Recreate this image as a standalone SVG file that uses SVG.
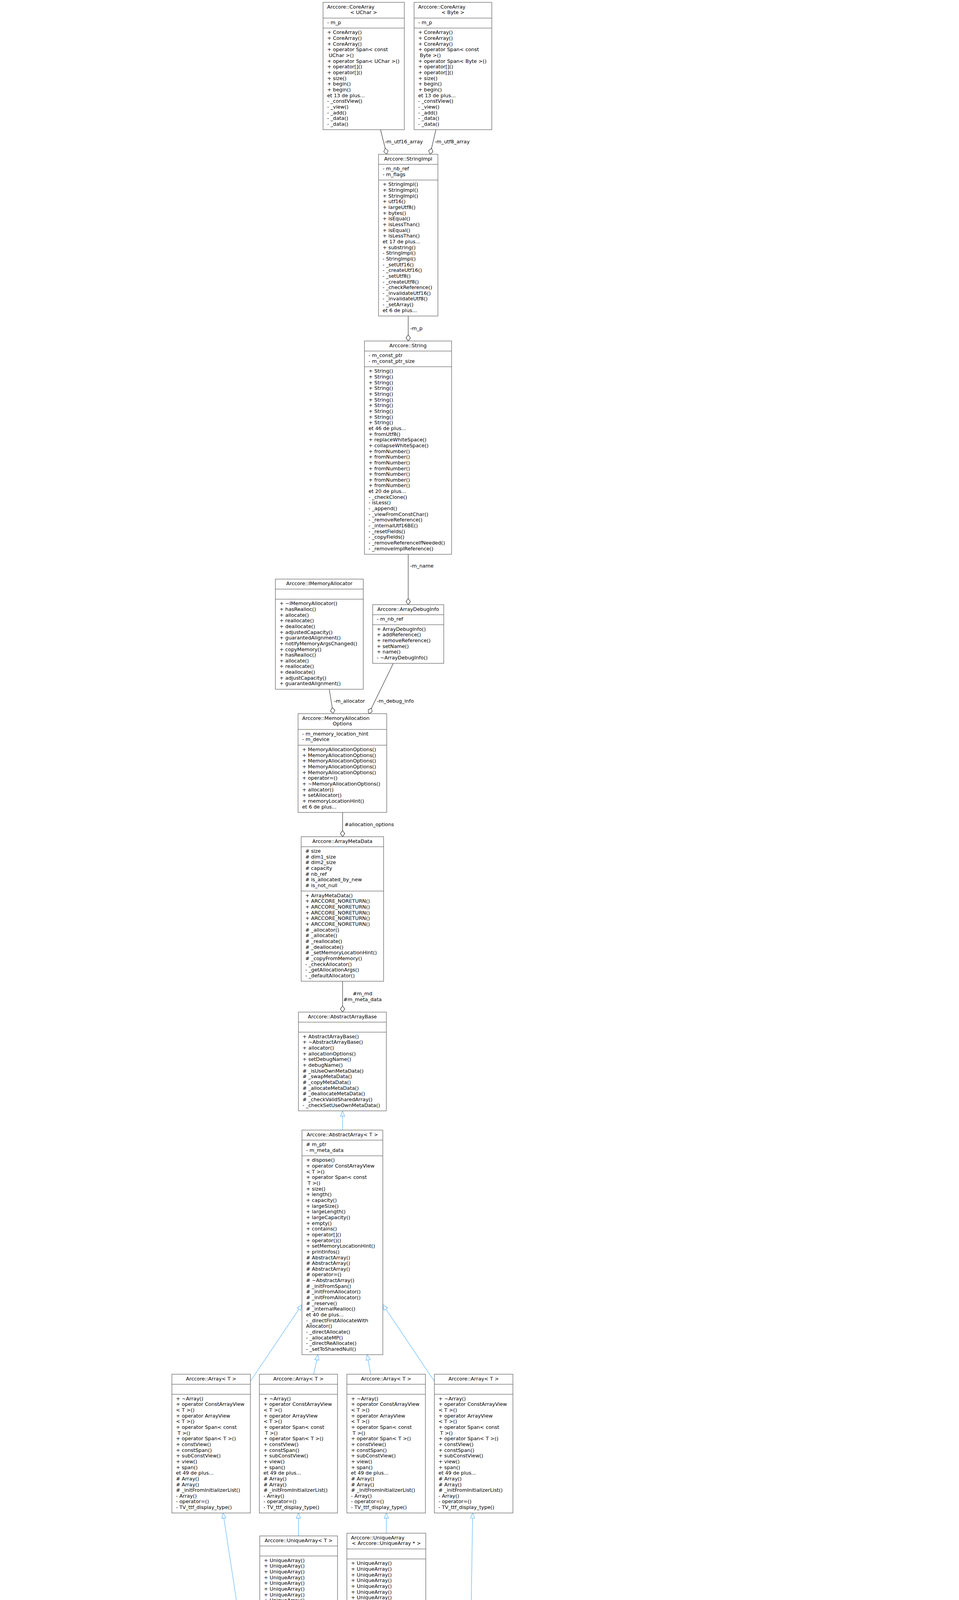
<svg xmlns="http://www.w3.org/2000/svg" xmlns:xlink="http://www.w3.org/1999/xlink" width="2455" height="7424" viewBox="0 0 2455 7424">
<style>
.n rect{fill:#fff;stroke:#666;stroke-width:1.3}
.n path{fill:none;stroke:#666;stroke-width:1.3}
.g rect,.g path{stroke:#bfbfbf}
.f rect{fill:#999}
text{font-family:"DejaVu Sans","Liberation Sans",sans-serif;font-size:12.8px;fill:#000}
.m{text-anchor:middle}
.en{text-anchor:end}
.e{fill:none;stroke:#404040;stroke-width:1.3}
.ih{fill:none;stroke:#63b8ff;stroke-width:1.3}
.rd{fill:none;stroke:#8b1a1a;stroke-width:1.3}
</style>
<defs>
<marker id="d" markerUnits="userSpaceOnUse" markerWidth="20" markerHeight="16" viewBox="-18 -8 20 16" refX="0" refY="0" orient="auto"><path d="M0,0L-8,-5.7L-16,0L-8,5.7Z" fill="#fff" stroke="#404040" stroke-width="1.3"/></marker>
<marker id="tb" markerUnits="userSpaceOnUse" markerWidth="18" markerHeight="16" viewBox="-16 -8 18 16" refX="0" refY="0" orient="auto"><path d="M0,0L-13.5,-5.5L-13.5,5.5Z" fill="#fff" stroke="#63b8ff" stroke-width="1.3"/></marker>
<marker id="tr" markerUnits="userSpaceOnUse" markerWidth="18" markerHeight="16" viewBox="-16 -8 18 16" refX="0" refY="0" orient="auto"><path d="M0,0L-13.5,-5.5L-13.5,5.5Z" fill="#fff" stroke="#8b1a1a" stroke-width="1.3"/></marker>
<text id="arrM"><tspan x="0" y="0">+ ~Array()</tspan><tspan x="0" dy="14.65">+ operator ConstArrayView</tspan><tspan x="0" dy="14.65">&lt; T &gt;()</tspan><tspan x="0" dy="14.65">+ operator ArrayView</tspan><tspan x="0" dy="14.65">&lt; T &gt;()</tspan><tspan x="0" dy="14.65">+ operator Span&lt; const</tspan><tspan x="4" dy="14.65">T &gt;()</tspan><tspan x="0" dy="14.65">+ operator Span&lt; T &gt;()</tspan><tspan x="0" dy="14.65">+ constView()</tspan><tspan x="0" dy="14.65">+ constSpan()</tspan><tspan x="0" dy="14.65">+ subConstView()</tspan><tspan x="0" dy="14.65">+ view()</tspan><tspan x="0" dy="14.65">+ span()</tspan><tspan x="0" dy="14.65">et 49 de plus...</tspan><tspan x="0" dy="14.65"># Array()</tspan><tspan x="0" dy="14.65"># Array()</tspan><tspan x="0" dy="14.65"># _initFromInitializerList()</tspan><tspan x="0" dy="14.65">- Array()</tspan><tspan x="0" dy="14.65">- operator=()</tspan><tspan x="0" dy="14.65">- TV_ttf_display_type()</tspan></text>
<text id="uaM"><tspan x="0" y="0">+ UniqueArray()</tspan><tspan x="0" dy="14.65">+ UniqueArray()</tspan><tspan x="0" dy="14.65">+ UniqueArray()</tspan><tspan x="0" dy="14.65">+ UniqueArray()</tspan><tspan x="0" dy="14.65">+ UniqueArray()</tspan><tspan x="0" dy="14.65">+ UniqueArray()</tspan><tspan x="0" dy="14.65">+ UniqueArray()</tspan><tspan x="0" dy="14.65">+ UniqueArray()</tspan><tspan x="0" dy="14.65">+ UniqueArray()</tspan><tspan x="0" dy="14.65">+ UniqueArray()</tspan><tspan x="0" dy="14.65">et 25 de plus...</tspan></text>
<text id="szp"><tspan x="0" y="0">- m_size</tspan><tspan x="0" dy="14.65">- m_ptr</tspan></text>
<text id="cavM"><tspan x="0" y="0">+ ConstArrayView()</tspan><tspan x="0" dy="14.65">+ ConstArrayView()</tspan><tspan x="0" dy="14.65">+ ConstArrayView()</tspan><tspan x="0" dy="14.65">+ ConstArrayView()</tspan><tspan x="0" dy="14.65">+ ConstArrayView()</tspan><tspan x="0" dy="14.65">+ operator=()</tspan><tspan x="0" dy="14.65">+ operator=()</tspan><tspan x="0" dy="14.65">+ operator=()</tspan><tspan x="0" dy="14.65">+ subView()</tspan><tspan x="0" dy="14.65">+ subPart()</tspan><tspan x="0" dy="14.65">et 19 de plus...</tspan><tspan x="0" dy="14.65">+ create()</tspan><tspan x="0" dy="14.65">- _min()</tspan></text>
<text id="avM"><tspan x="0" y="0">+ ArrayView()</tspan><tspan x="0" dy="14.65">+ ArrayView()</tspan><tspan x="0" dy="14.65">+ ArrayView()</tspan><tspan x="0" dy="14.65">+ ArrayView()</tspan><tspan x="0" dy="14.65">+ operator=()</tspan><tspan x="0" dy="14.65">+ operator=()</tspan><tspan x="0" dy="14.65">+ operator[]()</tspan><tspan x="0" dy="14.65">+ operator[]()</tspan><tspan x="0" dy="14.65">+ operator()()</tspan><tspan x="0" dy="14.65">+ operator()()</tspan><tspan x="0" dy="14.65">et 33 de plus...</tspan><tspan x="0" dy="14.65">+ create()</tspan><tspan x="0" dy="14.65"># _ptr()</tspan><tspan x="0" dy="14.65"># _ptr()</tspan><tspan x="0" dy="14.65"># _setArray()</tspan><tspan x="0" dy="14.65"># _setPtr()</tspan><tspan x="0" dy="14.65"># _setSize()</tspan><tspan x="0" dy="14.65">- _min()</tspan></text>
</defs>
<rect width="2455" height="7424" fill="#fff"/>

<g id="edges">
<path class="e" d="M974,332L990,395" marker-end="url(#d)"/>
<path class="e" d="M1116,332L1101,395" marker-end="url(#d)"/>
<path class="e" d="M1045,809L1045,873" marker-end="url(#d)"/>
<path class="e" d="M1045,1419L1045,1548" marker-end="url(#d)"/>
<path class="e" d="M843,1765L853,1827" marker-end="url(#d)"/>
<path class="e" d="M1007,1698L944,1827" marker-end="url(#d)"/>
<path class="e" d="M877,2080L877,2142" marker-end="url(#d)"/>
<path class="e" d="M877,2512L877,2591" marker-end="url(#d)"/>
<path class="ih" d="M877,2893L877,2844" marker-end="url(#tb)"/>
<path class="ih" d="M641,3536L773,3340" marker-end="url(#tb)"/>
<path class="ih" d="M803,3518L814,3468" marker-end="url(#tb)"/>
<path class="ih" d="M949,3518L940,3468" marker-end="url(#tb)"/>
<path class="ih" d="M1112,3536L980,3340" marker-end="url(#tb)"/>
<path class="ih" d="M764,3932L764,3873" marker-end="url(#tb)"/>
<path class="ih" d="M989,3925L989,3873" marker-end="url(#tb)"/>
<path class="ih" d="M619,4187L571,3873" marker-end="url(#tb)"/>
<path class="ih" d="M1205,4187L1210,3873" marker-end="url(#tb)"/>
<path class="e" d="M763,4155C766,4300 790,4400 810,4450" marker-end="url(#d)"/>
<path class="e" d="M970,4163C958,4270 935,4380 926,4450" marker-end="url(#d)"/>
<path class="e" d="M580,4717C650,4780 715,4880 736,5133" marker-end="url(#d)"/>
<path class="e" d="M655,4425C670,4600 705,4850 744,5133" marker-end="url(#d)"/>
<path class="e" d="M876,4732C865,4850 815,5000 802,5133" marker-end="url(#d)"/>
<path class="e" d="M1157,4425C1100,4580 1000,4760 860,5133" marker-end="url(#d)"/>
<path class="e" d="M866,5252C902,5265 902,5425 866,5439" marker-end="url(#d)"/>
<path class="e" d="M628,5887L651,5908L1086,6203" marker-end="url(#d)"/>
<path class="e" d="M839,5561L1062,6068L1086,6098" marker-end="url(#d)"/>
<path class="e" d="M1131,5524L1166,6043" marker-end="url(#d)"/>
<path class="e" d="M1293,5524L1254,6043" marker-end="url(#d)"/>
<path class="e" d="M1470,5524C1468,5800 1440,5980 1294,6160" marker-end="url(#d)"/>
<path class="e" d="M1655,5488C1645,5750 1560,5950 1400,6106L1294,6193" marker-end="url(#d)"/>
<path class="e" d="M1294,6224C1325,6238 1325,6316 1294,6329" marker-end="url(#d)"/>
<path class="ih" d="M1853,6005L1853,5459" marker-end="url(#tb)"/>
<path class="e" d="M1086,6376L745,6688" marker-end="url(#d)"/>
<path class="e" d="M1629,7156C1480,7080 1310,6870 1250,6680C1235,6620 1222,6560 1215,6515" marker-end="url(#d)"/>
<path class="e" d="M1498,6739C1440,6700 1360,6680 1330,6655C1290,6620 1268,6560 1258,6515" marker-end="url(#d)"/>
<path class="e" d="M1294,6418C1350,6500 1480,6650 1545,6739" marker-end="url(#d)"/>
<path class="e" d="M1608,6419L1608,6739" marker-end="url(#d)"/>
<path class="e" d="M1726,6551L1644,6739" marker-end="url(#d)"/>
<path class="e" d="M1633,6875L1684,7020" marker-end="url(#d)"/>
<path class="e" d="M1940,6882L1869,7020" marker-end="url(#d)"/>
<path class="e" d="M2199,6861C2120,6940 2000,7060 1889,7124" marker-end="url(#d)"/>
<path class="e" d="M1889,7184C1915,7195 1915,7240 1889,7249" marker-end="url(#d)"/>
<path class="e" d="M2065,6419L1997,6732" marker-end="url(#d)"/>
<path class="e" d="M2293,6375C2260,6440 2230,6510 2201,6556C2150,6620 2090,6680 2049,6732" marker-end="url(#d)"/>
<path class="e" d="M625,6420L625,6674" marker-end="url(#d)"/>
<path class="e" d="M745,6777C773,6790 773,6822 745,6833" marker-end="url(#d)"/>
<path class="rd" d="M538,6674L354,6361" marker-end="url(#tr)"/>
<path class="e" d="M719,6941L836,7115" marker-end="url(#d)"/>
<path class="e" d="M1019,6956L958,7115" marker-end="url(#d)"/>
<path class="e" d="M91,5414C95,5750 115,5950 170,6070C195,6120 215,6160 237,6196" marker-end="url(#d)"/>
<path class="e" d="M308,5444L308,6196" marker-end="url(#d)"/>
<text x="985" y="366.5">-m_utf16_array</text>
<text x="1113" y="366.5">-m_utf8_array</text>
<text x="1050" y="844.5">-m_p</text>
<text x="1050" y="1453">-m_name</text>
<text x="855" y="1798.5">-m_allocator</text>
<text x="965" y="1798.5">-m_debug_info</text>
<text x="882" y="2114.5">#allocation_options</text>
<text class="m" x="928" y="2547.5">#m_md</text>
<text class="m" x="928" y="2562.5">#m_meta_data</text>
<text class="m" x="865" y="4309.5">-m_current_buffer</text>
<text class="m" x="1037" y="4309.5">-m_allocated_buffers</text>
<text class="m" x="726" y="4594.5">-m_types</text>
<text class="m" x="1199" y="4594.5">+m_ids_buffer</text>
<text x="618" y="4767.5">-m_trace</text>
<text x="874" y="4767.5">-m_types_buffer</text>
<text x="895" y="5350.5">-singleton_instance</text>
<text class="m" x="212" y="5933.5">-m_first_sub_constituent</text>
<text class="m" x="212" y="5948">_item_id_data</text>
<text class="m" x="212" y="5962.5">-m_super_component_item</text>
<text class="m" x="212" y="5977">_local_id_data</text>
<text x="314" y="5955.5">-m_var_index_data</text>
<text class="m" x="806" y="5955.5">-m_item_family</text>
<text class="m" x="1087" y="5955.5">-m_item_type_mng</text>
<text class="m" x="1214" y="5955.5">-m_unique_ids</text>
<text class="m" x="1333" y="5941.5">-m_flags</text>
<text class="m" x="1333" y="5955.5">-m_owners</text>
<text class="m" x="1333" y="5969.5">-m_parent_item_ids</text>
<text class="m" x="1463" y="5954.5">-m_type_ids</text>
<text class="m" x="1601" y="5954.5">-m_items_internal</text>
<text class="m" x="1407" y="6274.5">+nullItemSharedInfo</text>
<text class="m" x="1407" y="6289.5">-nullItemSharedInfoPointer</text>
<text x="630" y="6608.5">-m_components</text>
<text class="m" x="931" y="6608.5">-m_item_shared_info</text>
<text class="m" x="1361" y="6608.5">-m_items</text>
<text class="en" x="1600" y="6586.5">-m_cell_shared_info</text>
<text class="en" x="1600" y="6601">-m_edge_shared_info</text>
<text class="en" x="1600" y="6615.5">-m_face_shared_info</text>
<text class="en" x="1600" y="6630">-m_node_shared_info</text>
<text x="1612" y="6586.5">+cells</text>
<text x="1612" y="6601">+edges</text>
<text x="1612" y="6615.5">+faces</text>
<text x="1612" y="6630">+nodes</text>
<text x="1714" y="6608.5">+mesh</text>
<text class="m" x="2068" y="6593.5">+m_indexes</text>
<text class="m" x="2068" y="6608">+m_list</text>
<text class="m" x="2068" y="6622.5">+m_offset</text>
<text x="2182" y="6608.5">+m_nb_item</text>
<text class="m" x="1433" y="6810.5">-m_connectivity</text>
<text class="m" x="855" y="6774.5">-m_sub_component_item</text>
<text class="m" x="855" y="6788.5">_shared_info</text>
<text class="m" x="855" y="6803">-m_super_component</text>
<text class="m" x="855" y="6817.5">_item_shared_info</text>
<text class="m" x="855" y="6832">-null_shared_info</text>
<text class="m" x="855" y="6846.5">-null_shared_info_pointer</text>
<text x="756" y="6991.5">-m_component_shared_info</text>
<text x="1010" y="6991.5">-m_ids</text>
<text x="1677" y="6991.5">-m_items</text>
<text x="1885" y="6991.5">-m_container</text>
<text x="2078" y="6991.5">-m_kind_info</text>
<text x="1918" y="7221.5">+nullInstance</text>
</g>

<g id="coreArrayUChar" class="n"><rect x="827" y="6" width="208" height="326"/><path d="M827,46.3H1035M827,71.95H1035"/>
<text x="837.5" y="21.5">Arccore::CoreArray</text><text class="m" x="931" y="36.15">&lt; UChar &gt;</text>
<text x="837.5" y="61.8">- m_p</text>
<text><tspan x="837.5" y="87.45">+ CoreArray()</tspan><tspan x="837.5" dy="14.65">+ CoreArray()</tspan><tspan x="837.5" dy="14.65">+ CoreArray()</tspan><tspan x="837.5" dy="14.65">+ operator Span&lt; const</tspan><tspan x="841.5" dy="14.65">UChar &gt;()</tspan><tspan x="837.5" dy="14.65">+ operator Span&lt; UChar &gt;()</tspan><tspan x="837.5" dy="14.65">+ operator[]()</tspan><tspan x="837.5" dy="14.65">+ operator[]()</tspan><tspan x="837.5" dy="14.65">+ size()</tspan><tspan x="837.5" dy="14.65">+ begin()</tspan><tspan x="837.5" dy="14.65">+ begin()</tspan><tspan x="837.5" dy="14.65">et 13 de plus...</tspan><tspan x="837.5" dy="14.65">- _constView()</tspan><tspan x="837.5" dy="14.65">- _view()</tspan><tspan x="837.5" dy="14.65">- _add()</tspan><tspan x="837.5" dy="14.65">- _data()</tspan><tspan x="837.5" dy="14.65">- _data()</tspan></text></g>

<g id="coreArrayByte" class="n"><rect x="1060" y="6" width="199" height="326"/><path d="M1060,46.3H1259M1060,71.95H1259"/>
<text x="1070.5" y="21.5">Arccore::CoreArray</text><text class="m" x="1159.5" y="36.15">&lt; Byte &gt;</text>
<text x="1070.5" y="61.8">- m_p</text>
<text><tspan x="1070.5" y="87.45">+ CoreArray()</tspan><tspan x="1070.5" dy="14.65">+ CoreArray()</tspan><tspan x="1070.5" dy="14.65">+ CoreArray()</tspan><tspan x="1070.5" dy="14.65">+ operator Span&lt; const</tspan><tspan x="1074.5" dy="14.65">Byte &gt;()</tspan><tspan x="1070.5" dy="14.65">+ operator Span&lt; Byte &gt;()</tspan><tspan x="1070.5" dy="14.65">+ operator[]()</tspan><tspan x="1070.5" dy="14.65">+ operator[]()</tspan><tspan x="1070.5" dy="14.65">+ size()</tspan><tspan x="1070.5" dy="14.65">+ begin()</tspan><tspan x="1070.5" dy="14.65">+ begin()</tspan><tspan x="1070.5" dy="14.65">et 13 de plus...</tspan><tspan x="1070.5" dy="14.65">- _constView()</tspan><tspan x="1070.5" dy="14.65">- _view()</tspan><tspan x="1070.5" dy="14.65">- _add()</tspan><tspan x="1070.5" dy="14.65">- _data()</tspan><tspan x="1070.5" dy="14.65">- _data()</tspan></text></g>

<g id="stringImpl" class="n"><rect x="969" y="395" width="152" height="414"/><path d="M969,420.65H1121M969,460.95H1121"/>
<text class="m" x="1045" y="410.5">Arccore::StringImpl</text>
<text><tspan x="979.5" y="436.15">- m_nb_ref</tspan><tspan x="979.5" dy="14.65">- m_flags</tspan></text>
<text><tspan x="979.5" y="476.45">+ StringImpl()</tspan><tspan x="979.5" dy="14.65">+ StringImpl()</tspan><tspan x="979.5" dy="14.65">+ StringImpl()</tspan><tspan x="979.5" dy="14.65">+ utf16()</tspan><tspan x="979.5" dy="14.65">+ largeUtf8()</tspan><tspan x="979.5" dy="14.65">+ bytes()</tspan><tspan x="979.5" dy="14.65">+ isEqual()</tspan><tspan x="979.5" dy="14.65">+ isLessThan()</tspan><tspan x="979.5" dy="14.65">+ isEqual()</tspan><tspan x="979.5" dy="14.65">+ isLessThan()</tspan><tspan x="979.5" dy="14.65">et 17 de plus...</tspan><tspan x="979.5" dy="14.65">+ substring()</tspan><tspan x="979.5" dy="14.65">- StringImpl()</tspan><tspan x="979.5" dy="14.65">- StringImpl()</tspan><tspan x="979.5" dy="14.65">- _setUtf16()</tspan><tspan x="979.5" dy="14.65">- _createUtf16()</tspan><tspan x="979.5" dy="14.65">- _setUtf8()</tspan><tspan x="979.5" dy="14.65">- _createUtf8()</tspan><tspan x="979.5" dy="14.65">- _checkReference()</tspan><tspan x="979.5" dy="14.65">- _invalidateUtf16()</tspan><tspan x="979.5" dy="14.65">- _invalidateUtf8()</tspan><tspan x="979.5" dy="14.65">- _setArray()</tspan><tspan x="979.5" dy="14.65">et 6 de plus...</tspan></text></g>

<g id="string" class="n"><rect x="933" y="873" width="223" height="546"/><path d="M933,898.65H1156M933,938.95H1156"/>
<text class="m" x="1044.5" y="888.5">Arccore::String</text>
<text><tspan x="943.5" y="914.15">- m_const_ptr</tspan><tspan x="943.5" dy="14.65">- m_const_ptr_size</tspan></text>
<text><tspan x="943.5" y="954.45">+ String()</tspan><tspan x="943.5" dy="14.65">+ String()</tspan><tspan x="943.5" dy="14.65">+ String()</tspan><tspan x="943.5" dy="14.65">+ String()</tspan><tspan x="943.5" dy="14.65">+ String()</tspan><tspan x="943.5" dy="14.65">+ String()</tspan><tspan x="943.5" dy="14.65">+ String()</tspan><tspan x="943.5" dy="14.65">+ String()</tspan><tspan x="943.5" dy="14.65">+ String()</tspan><tspan x="943.5" dy="14.65">+ String()</tspan><tspan x="943.5" dy="14.65">et 46 de plus...</tspan><tspan x="943.5" dy="14.65">+ fromUtf8()</tspan><tspan x="943.5" dy="14.65">+ replaceWhiteSpace()</tspan><tspan x="943.5" dy="14.65">+ collapseWhiteSpace()</tspan><tspan x="943.5" dy="14.65">+ fromNumber()</tspan><tspan x="943.5" dy="14.65">+ fromNumber()</tspan><tspan x="943.5" dy="14.65">+ fromNumber()</tspan><tspan x="943.5" dy="14.65">+ fromNumber()</tspan><tspan x="943.5" dy="14.65">+ fromNumber()</tspan><tspan x="943.5" dy="14.65">+ fromNumber()</tspan><tspan x="943.5" dy="14.65">+ fromNumber()</tspan><tspan x="943.5" dy="14.65">et 20 de plus...</tspan><tspan x="943.5" dy="14.65">- _checkClone()</tspan><tspan x="943.5" dy="14.65">- isLess()</tspan><tspan x="943.5" dy="14.65">- _append()</tspan><tspan x="943.5" dy="14.65">- _viewFromConstChar()</tspan><tspan x="943.5" dy="14.65">- _removeReference()</tspan><tspan x="943.5" dy="14.65">- _internalUtf16BE()</tspan><tspan x="943.5" dy="14.65">- _resetFields()</tspan><tspan x="943.5" dy="14.65">- _copyFields()</tspan><tspan x="943.5" dy="14.65">- _removeReferenceIfNeeded()</tspan><tspan x="943.5" dy="14.65">- _removeImplReference()</tspan></text></g>

<g id="iMemoryAllocator" class="n"><rect x="705" y="1482.5" width="225" height="282"/><path d="M705,1508.15H930M705,1533.8H930"/>
<text class="m" x="817.5" y="1498">Arccore::IMemoryAllocator</text>
<text><tspan x="715.5" y="1549.3">+ ~IMemoryAllocator()</tspan><tspan x="715.5" dy="14.65">+ hasRealloc()</tspan><tspan x="715.5" dy="14.65">+ allocate()</tspan><tspan x="715.5" dy="14.65">+ reallocate()</tspan><tspan x="715.5" dy="14.65">+ deallocate()</tspan><tspan x="715.5" dy="14.65">+ adjustedCapacity()</tspan><tspan x="715.5" dy="14.65">+ guarantedAlignment()</tspan><tspan x="715.5" dy="14.65">+ notifyMemoryArgsChanged()</tspan><tspan x="715.5" dy="14.65">+ copyMemory()</tspan><tspan x="715.5" dy="14.65">+ hasRealloc()</tspan><tspan x="715.5" dy="14.65">+ allocate()</tspan><tspan x="715.5" dy="14.65">+ reallocate()</tspan><tspan x="715.5" dy="14.65">+ deallocate()</tspan><tspan x="715.5" dy="14.65">+ adjustCapacity()</tspan><tspan x="715.5" dy="14.65">+ guarantedAlignment()</tspan></text></g>

<g id="arrayDebugInfo" class="n"><rect x="954" y="1548" width="182" height="150.2"/><path d="M954,1573.65H1136M954,1599.3H1136"/>
<text class="m" x="1045" y="1563.5">Arccore::ArrayDebugInfo</text>
<text x="964.5" y="1589.15">- m_nb_ref</text>
<text><tspan x="964.5" y="1614.8">+ ArrayDebugInfo()</tspan><tspan x="964.5" dy="14.65">+ addReference()</tspan><tspan x="964.5" dy="14.65">+ removeReference()</tspan><tspan x="964.5" dy="14.65">+ setName()</tspan><tspan x="964.5" dy="14.65">+ name()</tspan><tspan x="964.5" dy="14.65">- ~ArrayDebugInfo()</tspan></text></g>

<g id="memoryAllocationOptions" class="n"><rect x="763" y="1827" width="227" height="252.75"/><path d="M763,1867.3H990M763,1907.6H990"/>
<text x="773.5" y="1842.5">Arccore::MemoryAllocation</text><text class="m" x="876.5" y="1857.15">Options</text>
<text><tspan x="773.5" y="1882.8">- m_memory_location_hint</tspan><tspan x="773.5" dy="14.65">- m_device</tspan></text>
<text><tspan x="773.5" y="1923.1">+ MemoryAllocationOptions()</tspan><tspan x="773.5" dy="14.65">+ MemoryAllocationOptions()</tspan><tspan x="773.5" dy="14.65">+ MemoryAllocationOptions()</tspan><tspan x="773.5" dy="14.65">+ MemoryAllocationOptions()</tspan><tspan x="773.5" dy="14.65">+ MemoryAllocationOptions()</tspan><tspan x="773.5" dy="14.65">+ operator=()</tspan><tspan x="773.5" dy="14.65">+ ~MemoryAllocationOptions()</tspan><tspan x="773.5" dy="14.65">+ allocator()</tspan><tspan x="773.5" dy="14.65">+ setAllocator()</tspan><tspan x="773.5" dy="14.65">+ memoryLocationHint()</tspan><tspan x="773.5" dy="14.65">et 6 de plus...</tspan></text></g>

<g id="arrayMetaData" class="n"><rect x="771" y="2142" width="211" height="370"/><path d="M771,2167.65H982M771,2281.2H982"/>
<text class="m" x="876.5" y="2157.5">Arccore::ArrayMetaData</text>
<text><tspan x="781.5" y="2183.15"># size</tspan><tspan x="781.5" dy="14.65"># dim1_size</tspan><tspan x="781.5" dy="14.65"># dim2_size</tspan><tspan x="781.5" dy="14.65"># capacity</tspan><tspan x="781.5" dy="14.65"># nb_ref</tspan><tspan x="781.5" dy="14.65"># is_allocated_by_new</tspan><tspan x="781.5" dy="14.65"># is_not_null</tspan></text>
<text><tspan x="781.5" y="2296.7">+ ArrayMetaData()</tspan><tspan x="781.5" dy="14.65">+ ARCCORE_NORETURN()</tspan><tspan x="781.5" dy="14.65">+ ARCCORE_NORETURN()</tspan><tspan x="781.5" dy="14.65">+ ARCCORE_NORETURN()</tspan><tspan x="781.5" dy="14.65">+ ARCCORE_NORETURN()</tspan><tspan x="781.5" dy="14.65">+ ARCCORE_NORETURN()</tspan><tspan x="781.5" dy="14.65"># _allocator()</tspan><tspan x="781.5" dy="14.65"># _allocate()</tspan><tspan x="781.5" dy="14.65"># _reallocate()</tspan><tspan x="781.5" dy="14.65"># _deallocate()</tspan><tspan x="781.5" dy="14.65"># _setMemoryLocationHint()</tspan><tspan x="781.5" dy="14.65"># _copyFromMemory()</tspan><tspan x="781.5" dy="14.65">- _checkAllocator()</tspan><tspan x="781.5" dy="14.65">- _getAllocationArgs()</tspan><tspan x="781.5" dy="14.65">- _defaultAllocator()</tspan></text></g>

<g id="abstractArrayBase" class="n"><rect x="764" y="2591" width="225" height="252.75"/><path d="M764,2616.65H989M764,2642.3H989"/>
<text class="m" x="876.5" y="2606.5">Arccore::AbstractArrayBase</text>
<text><tspan x="774.5" y="2657.8">+ AbstractArrayBase()</tspan><tspan x="774.5" dy="14.65">+ ~AbstractArrayBase()</tspan><tspan x="774.5" dy="14.65">+ allocator()</tspan><tspan x="774.5" dy="14.65">+ allocationOptions()</tspan><tspan x="774.5" dy="14.65">+ setDebugName()</tspan><tspan x="774.5" dy="14.65">+ debugName()</tspan><tspan x="774.5" dy="14.65"># _isUseOwnMetaData()</tspan><tspan x="774.5" dy="14.65"># _swapMetaData()</tspan><tspan x="774.5" dy="14.65"># _copyMetaData()</tspan><tspan x="774.5" dy="14.65"># _allocateMetaData()</tspan><tspan x="774.5" dy="14.65"># _deallocateMetaData()</tspan><tspan x="774.5" dy="14.65"># _checkValidSharedArray()</tspan><tspan x="774.5" dy="14.65">- _checkSetUseOwnMetaData()</tspan></text></g>

<g id="abstractArrayT" class="n"><rect x="773" y="2893" width="207" height="575"/><path d="M773,2918.65H980M773,2958.95H980"/>
<text class="m" x="876.5" y="2908.5">Arccore::AbstractArray&lt; T &gt;</text>
<text><tspan x="783.5" y="2934.15"># m_ptr</tspan><tspan x="783.5" dy="14.65">- m_meta_data</tspan></text>
<text><tspan x="783.5" y="2974.45">+ dispose()</tspan><tspan x="783.5" dy="14.65">+ operator ConstArrayView</tspan><tspan x="783.5" dy="14.65">&lt; T &gt;()</tspan><tspan x="783.5" dy="14.65">+ operator Span&lt; const</tspan><tspan x="787.5" dy="14.65">T &gt;()</tspan><tspan x="783.5" dy="14.65">+ size()</tspan><tspan x="783.5" dy="14.65">+ length()</tspan><tspan x="783.5" dy="14.65">+ capacity()</tspan><tspan x="783.5" dy="14.65">+ largeSize()</tspan><tspan x="783.5" dy="14.65">+ largeLength()</tspan><tspan x="783.5" dy="14.65">+ largeCapacity()</tspan><tspan x="783.5" dy="14.65">+ empty()</tspan><tspan x="783.5" dy="14.65">+ contains()</tspan><tspan x="783.5" dy="14.65">+ operator[]()</tspan><tspan x="783.5" dy="14.65">+ operator()()</tspan><tspan x="783.5" dy="14.65">+ setMemoryLocationHint()</tspan><tspan x="783.5" dy="14.65">+ printInfos()</tspan><tspan x="783.5" dy="14.65"># AbstractArray()</tspan><tspan x="783.5" dy="14.65"># AbstractArray()</tspan><tspan x="783.5" dy="14.65"># AbstractArray()</tspan><tspan x="783.5" dy="14.65"># operator=()</tspan><tspan x="783.5" dy="14.65"># ~AbstractArray()</tspan><tspan x="783.5" dy="14.65"># _initFromSpan()</tspan><tspan x="783.5" dy="14.65"># _initFromAllocator()</tspan><tspan x="783.5" dy="14.65"># _initFromAllocator()</tspan><tspan x="783.5" dy="14.65"># _reserve()</tspan><tspan x="783.5" dy="14.65"># _internalRealloc()</tspan><tspan x="783.5" dy="14.65">et 40 de plus...</tspan><tspan x="783.5" dy="14.65">- _directFirstAllocateWith</tspan><tspan x="783.5" dy="14.65">Allocator()</tspan><tspan x="783.5" dy="14.65">- _directAllocate()</tspan><tspan x="783.5" dy="14.65">- _allocateMP()</tspan><tspan x="783.5" dy="14.65">- _directReAllocate()</tspan><tspan x="783.5" dy="14.65">- _setToSharedNull()</tspan></text></g>

<g id="array1" class="n"><rect x="440" y="3518" width="201" height="355.3"/><path d="M440,3543.65H641M440,3569.3H641"/><text class="m" x="540.5" y="3533.5">Arccore::Array&lt; T &gt;</text><use xlink:href="#arrM" x="450.5" y="3584.8"/></g>
<g id="array2" class="n"><rect x="664" y="3518" width="200" height="355.3"/><path d="M664,3543.65H864M664,3569.3H864"/><text class="m" x="764" y="3533.5">Arccore::Array&lt; T &gt;</text><use xlink:href="#arrM" x="674.5" y="3584.8"/></g>
<g id="array3" class="n"><rect x="888" y="3518" width="201" height="355.3"/><path d="M888,3543.65H1089M888,3569.3H1089"/><text class="m" x="988.5" y="3533.5">Arccore::Array&lt; T &gt;</text><use xlink:href="#arrM" x="898.5" y="3584.8"/></g>
<g id="array4" class="n"><rect x="1112" y="3518" width="201" height="355.3"/><path d="M1112,3543.65H1313M1112,3569.3H1313"/><text class="m" x="1212.5" y="3533.5">Arccore::Array&lt; T &gt;</text><use xlink:href="#arrM" x="1122.5" y="3584.8"/></g>

<g id="uniqueArrayT" class="n"><rect x="665" y="3932" width="199" height="223.45"/><path d="M665,3957.65H864M665,3983.3H864"/><text class="m" x="764.5" y="3947.5">Arccore::UniqueArray&lt; T &gt;</text><use xlink:href="#uaM" x="675.5" y="3998.8"/></g>
<g id="uniqueArrayUA" class="n"><rect x="888" y="3925" width="202" height="238.1"/><path d="M888,3965.3H1090M888,3990.95H1090"/><text x="898.5" y="3940.5">Arccore::UniqueArray</text><text class="m" x="989" y="3955.15">&lt; Arccore::UniqueArray * &gt;</text><use xlink:href="#uaM" x="898.5" y="4006.45"/></g>
<g id="uniqueArrayITI" class="n"><rect x="538" y="4187" width="202" height="238.1"/><path d="M538,4227.3H740M538,4252.95H740"/><text x="548.5" y="4202.5">Arccore::UniqueArray</text><text class="m" x="639" y="4217.15">&lt; Arcane::ItemTypeInfo * &gt;</text><use xlink:href="#uaM" x="548.5" y="4268.45"/></g>
<g id="uniqueArrayInteger" class="n"><rect x="1124" y="4187" width="160" height="238.1"/><path d="M1124,4227.3H1284M1124,4252.95H1284"/><text x="1134.5" y="4202.5">Arccore::UniqueArray</text><text class="m" x="1204" y="4217.15">&lt; Integer &gt;</text><use xlink:href="#uaM" x="1134.5" y="4268.45"/></g>

<g id="multiBufferT" class="n"><rect x="786" y="4450" width="235" height="282"/><path d="M786,4490.3H1021M786,4545.25H1021"/>
<text x="796.5" y="4465.5">Arcane::MultiBufferT</text><text class="m" x="903.5" y="4480.15">&lt; Arcane::ItemTypeInfoBuilder &gt;</text>
<text><tspan x="796.5" y="4505.8">- m_buffer_size</tspan><tspan x="796.5" dy="14.65">- m_current_buffer_size</tspan><tspan x="796.5" dy="14.65">- m_nb_in_buffer</tspan></text>
<text><tspan x="796.5" y="4560.75">+ MultiBufferT()</tspan><tspan x="796.5" dy="14.65">+ MultiBufferT()</tspan><tspan x="796.5" dy="14.65">+ MultiBufferT()</tspan><tspan x="796.5" dy="14.65">+ ~MultiBufferT()</tspan><tspan x="796.5" dy="14.65">+ operator=()</tspan><tspan x="796.5" dy="14.65">+ allocOne()</tspan><tspan x="796.5" dy="14.65">+ allocMany()</tspan><tspan x="796.5" dy="14.65">+ clear()</tspan><tspan x="796.5" dy="14.65">+ nbAllocatedBuffer()</tspan><tspan x="796.5" dy="14.65">+ bufferSize()</tspan><tspan x="796.5" dy="14.65"># _freeAllocatedBuffers()</tspan><tspan x="796.5" dy="14.65">- _allocateCurrentBuffer()</tspan></text></g>

<g id="iTraceMng" class="n"><rect x="400" y="4464" width="246" height="252.75"/><path d="M400,4489.65H646M400,4515.3H646"/>
<text class="m" x="523" y="4479.5">Arccore::ITraceMng</text>
<text><tspan x="410.5" y="4530.8">+ ~ITraceMng()</tspan><tspan x="410.5" dy="14.65">+ error()</tspan><tspan x="410.5" dy="14.65">+ perror()</tspan><tspan x="410.5" dy="14.65">+ fatal()</tspan><tspan x="410.5" dy="14.65">+ pfatal()</tspan><tspan x="410.5" dy="14.65">+ warning()</tspan><tspan x="410.5" dy="14.65">+ pwarning()</tspan><tspan x="410.5" dy="14.65">+ info()</tspan><tspan x="410.5" dy="14.65">+ pinfo()</tspan><tspan x="410.5" dy="14.65">+ info()</tspan><tspan x="410.5" dy="14.65">et 40 de plus...</tspan><tspan x="410.5" dy="14.65">- ARCCORE_DECLARE_REFERENCE</tspan><tspan x="410.5" dy="14.65">_COUNTED_INCLASS_METHODS()</tspan></text></g>

<g id="iItemFamily" class="n"><rect x="405" y="4795" width="223" height="1102.45"/><path d="M405,4820.65H628M405,4846.3H628"/>
<text class="m" x="516.5" y="4810.5">Arcane::IItemFamily</text>
<text><tspan x="415.5" y="4861.8">+ ~IItemFamily()</tspan><tspan x="415.5" dy="14.65">+ build()</tspan><tspan x="415.5" dy="14.65">+ name()</tspan><tspan x="415.5" dy="14.65">+ fullName()</tspan><tspan x="415.5" dy="14.65">+ itemKind()</tspan><tspan x="415.5" dy="14.65">+ nbItem()</tspan><tspan x="415.5" dy="14.65">+ maxLocalId()</tspan><tspan x="415.5" dy="14.65">+ itemsInternal()</tspan><tspan x="415.5" dy="14.65">+ itemInfoListView()</tspan><tspan x="415.5" dy="14.65">+ parentFamily()</tspan><tspan x="415.5" dy="14.65">et 33 de plus...</tspan><tspan x="415.5" dy="14.65">+ findGroup()</tspan><tspan x="415.5" dy="14.65">+ findGroup()</tspan><tspan x="415.5" dy="14.65">+ createGroup()</tspan><tspan x="415.5" dy="14.65">+ createGroup()</tspan><tspan x="415.5" dy="14.65">+ destroyGroups()</tspan><tspan x="415.5" dy="14.65">+ createGroup()</tspan><tspan x="415.5" dy="14.65">+ findVariable()</tspan><tspan x="415.5" dy="14.65">+ usedVariables()</tspan><tspan x="415.5" dy="14.65">+ prepareForDump()</tspan><tspan x="415.5" dy="14.65">+ readFromDump()</tspan><tspan x="415.5" dy="14.65">et 6 de plus...</tspan><tspan x="415.5" dy="14.65">+ allItemsSynchronizer()</tspan><tspan x="415.5" dy="14.65">+ synchronize()</tspan><tspan x="415.5" dy="14.65">+ reduceFromGhostItems()</tspan><tspan x="415.5" dy="14.65">+ reduceFromGhostItems()</tspan><tspan x="415.5" dy="14.65">+ findAdjencyItems()</tspan><tspan x="415.5" dy="14.65">+ toParticleFamily()</tspan><tspan x="415.5" dy="14.65">+ toDoFFamily()</tspan><tspan x="415.5" dy="14.65">+ internalRemoveItems()</tspan><tspan x="415.5" dy="14.65">+ addSourceConnectivity()</tspan><tspan x="415.5" dy="14.65">+ addTargetConnectivity()</tspan><tspan x="415.5" dy="14.65">+ removeSourceConnectivity()</tspan><tspan x="415.5" dy="14.65">+ removeTargetConnectivity()</tspan><tspan x="415.5" dy="14.65">+ setConnectivityMng()</tspan><tspan x="415.5" dy="14.65">+ addGhostItems()</tspan><tspan x="415.5" dy="14.65">+ policyMng()</tspan><tspan x="415.5" dy="14.65">+ properties()</tspan><tspan x="415.5" dy="14.65">+ resizeVariables()</tspan><tspan x="415.5" dy="14.65">+ _topologyModifier()</tspan><tspan x="415.5" dy="14.65">+ _internalApi()</tspan><tspan x="415.5" dy="14.65">* findGroup()</tspan><tspan x="415.5" dy="14.65">* findGroup()</tspan><tspan x="415.5" dy="14.65">* createGroup()</tspan><tspan x="415.5" dy="14.65">* createGroup()</tspan><tspan x="415.5" dy="14.65">* destroyGroups()</tspan><tspan x="415.5" dy="14.65">* createGroup()</tspan><tspan x="415.5" dy="14.65">* findVariable()</tspan><tspan x="415.5" dy="14.65">* usedVariables()</tspan><tspan x="415.5" dy="14.65">* prepareForDump()</tspan><tspan x="415.5" dy="14.65">* readFromDump()</tspan><tspan x="415.5" dy="14.65">et 6 de plus...</tspan><tspan x="415.5" dy="14.65">* allItemsSynchronizer()</tspan><tspan x="415.5" dy="14.65">* synchronize()</tspan><tspan x="415.5" dy="14.65">* reduceFromGhostItems()</tspan><tspan x="415.5" dy="14.65">* reduceFromGhostItems()</tspan><tspan x="415.5" dy="14.65">* findAdjencyItems()</tspan><tspan x="415.5" dy="14.65">* toParticleFamily()</tspan><tspan x="415.5" dy="14.65">* toDoFFamily()</tspan><tspan x="415.5" dy="14.65">* internalRemoveItems()</tspan><tspan x="415.5" dy="14.65">* addSourceConnectivity()</tspan><tspan x="415.5" dy="14.65">* addTargetConnectivity()</tspan><tspan x="415.5" dy="14.65">* removeSourceConnectivity()</tspan><tspan x="415.5" dy="14.65">* removeTargetConnectivity()</tspan><tspan x="415.5" dy="14.65">* setConnectivityMng()</tspan><tspan x="415.5" dy="14.65">* addGhostItems()</tspan><tspan x="415.5" dy="14.65">* policyMng()</tspan><tspan x="415.5" dy="14.65">* properties()</tspan><tspan x="415.5" dy="14.65">* resizeVariables()</tspan><tspan x="415.5" dy="14.65">* _topologyModifier()</tspan><tspan x="415.5" dy="14.65">* _internalApi()</tspan></text></g>

<g id="itemTypeMng" class="n"><rect x="653" y="5133" width="213" height="428.55"/><path d="M653,5158.65H866M653,5242.9H866"/>
<text class="m" x="759.5" y="5148.5">Arcane::ItemTypeMng</text>
<text><tspan x="663.5" y="5174.15">- m_initialized</tspan><tspan x="663.5" dy="14.65">- m_initialized_counter</tspan><tspan x="663.5" dy="14.65">- m_mesh_with_general</tspan><tspan x="663.5" dy="14.65">_cells</tspan><tspan x="663.5" dy="14.65">- m_nb_builtin_item_type</tspan></text>
<text><tspan x="663.5" y="5258.4">+ build()</tspan><tspan x="663.5" dy="14.65">+ types()</tspan><tspan x="663.5" dy="14.65">+ typeFromId()</tspan><tspan x="663.5" dy="14.65">+ typeFromId()</tspan><tspan x="663.5" dy="14.65">+ typeName()</tspan><tspan x="663.5" dy="14.65">+ typeName()</tspan><tspan x="663.5" dy="14.65">+ printTypes()</tspan><tspan x="663.5" dy="14.65">+ hasGeneralCells()</tspan><tspan x="663.5" dy="14.65">+ setMeshWithGeneralCells()</tspan><tspan x="663.5" dy="14.65">+ singleton()</tspan><tspan x="663.5" dy="14.65">+ destroySingleton()</tspan><tspan x="663.5" dy="14.65">+ nbBasicItemType()</tspan><tspan x="663.5" dy="14.65">+ nbBuiltInItemType()</tspan><tspan x="663.5" dy="14.65">+ nbHChildrenByItemType()</tspan><tspan x="663.5" dy="14.65"># ItemTypeMng()</tspan><tspan x="663.5" dy="14.65"># ~ItemTypeMng()</tspan><tspan x="663.5" dy="14.65">- readTypes()</tspan><tspan x="663.5" dy="14.65">- _build()</tspan><tspan x="663.5" dy="14.65">- _singleton()</tspan><tspan x="663.5" dy="14.65">- _destroySingleton()</tspan><tspan x="663.5" dy="14.65">- _legacyTypeName()</tspan></text></g>

<g id="constituentItemIndex" class="n"><rect x="5" y="5279" width="188" height="135.55"/><path d="M5,5319.3H193M5,5344.95H193"/>
<text x="15.5" y="5294.5">Arcane::Materials::</text><text class="m" x="99" y="5309.15">ConstituentItemIndex</text>
<text x="15.5" y="5334.8">- m_id</text>
<text><tspan x="15.5" y="5360.45">+ ConstituentItemIndex()</tspan><tspan x="15.5" dy="14.65">+ ConstituentItemIndex()</tspan><tspan x="15.5" dy="14.65">+ localId()</tspan><tspan x="15.5" dy="14.65">+ isNull()</tspan></text></g>

<g id="matVarIndex" class="n"><rect x="237" y="5250" width="143" height="194.15"/><path d="M237,5290.3H380M237,5330.6H380"/>
<text x="247.5" y="5265.5">Arcane::Materials::</text><text class="m" x="308.5" y="5280.15">MatVarIndex</text>
<text><tspan x="247.5" y="5305.8">- m_array_index</tspan><tspan x="247.5" dy="14.65">- m_value_index</tspan></text>
<text><tspan x="247.5" y="5346.1">+ MatVarIndex()</tspan><tspan x="247.5" dy="14.65">+ MatVarIndex()</tspan><tspan x="247.5" dy="14.65">+ arrayIndex()</tspan><tspan x="247.5" dy="14.65">+ valueIndex()</tspan><tspan x="247.5" dy="14.65">+ setIndex()</tspan><tspan x="247.5" dy="14.65">+ reset()</tspan><tspan x="247.5" dy="14.65">+ null()</tspan></text></g>

<g id="arrayViewInt64" class="n"><rect x="1048" y="5169" width="146" height="355.3"/><path d="M1048,5209.3H1194M1048,5249.6H1194"/><text x="1058.5" y="5184.5">Arccore::ArrayView</text><text class="m" x="1121" y="5199.15">&lt; Int64 &gt;</text><use xlink:href="#szp" x="1058.5" y="5224.8"/><use xlink:href="#avM" x="1058.5" y="5265.1"/></g>
<g id="arrayViewInt32" class="n"><rect x="1218" y="5169" width="147" height="355.3"/><path d="M1218,5209.3H1365M1218,5249.6H1365"/><text x="1228.5" y="5184.5">Arccore::ArrayView</text><text class="m" x="1291.5" y="5199.15">&lt; Int32 &gt;</text><use xlink:href="#szp" x="1228.5" y="5224.8"/><use xlink:href="#avM" x="1228.5" y="5265.1"/></g>
<g id="arrayViewInt16" class="n"><rect x="1388" y="5169" width="147" height="355.3"/><path d="M1388,5209.3H1535M1388,5249.6H1535"/><text x="1398.5" y="5184.5">Arccore::ArrayView</text><text class="m" x="1461.5" y="5199.15">&lt; Int16 &gt;</text><use xlink:href="#szp" x="1398.5" y="5224.8"/><use xlink:href="#avM" x="1398.5" y="5265.1"/></g>

<g id="constArrayViewArcaneItemInternal" class="n"><rect x="1559" y="5206" width="197" height="282.05"/><path d="M1559,5246.3H1756M1559,5286.6H1756"/><text x="1569.5" y="5221.5">Arccore::ConstArrayView</text><text class="m" x="1657.5" y="5236.15">&lt; Arcane::ItemInternal * &gt;</text><use xlink:href="#szp" x="1569.5" y="5261.8"/><use xlink:href="#cavM" x="1569.5" y="5302.1"/></g>

<g id="iMeshBase" class="n g"><rect x="1781" y="5235" width="147" height="223.45"/><path d="M1781,5260.65H1928M1781,5286.3H1928"/>
<text class="m" x="1854.5" y="5250.5">Arcane::IMeshBase</text>
<text><tspan x="1791.5" y="5301.8">+ ~IMeshBase()</tspan><tspan x="1791.5" dy="14.65">+ handle()</tspan><tspan x="1791.5" dy="14.65">+ name()</tspan><tspan x="1791.5" dy="14.65">+ nbNode()</tspan><tspan x="1791.5" dy="14.65">+ nbEdge()</tspan><tspan x="1791.5" dy="14.65">+ nbFace()</tspan><tspan x="1791.5" dy="14.65">+ nbCell()</tspan><tspan x="1791.5" dy="14.65">+ nbItem()</tspan><tspan x="1791.5" dy="14.65">+ traceMng()</tspan><tspan x="1791.5" dy="14.65">+ dimension()</tspan><tspan x="1791.5" dy="14.65">et 19 de plus...</tspan></text></g>

<g id="itemSharedInfo" class="n"><rect x="1086" y="6043" width="208" height="472.5"/><path d="M1086,6068.65H1294M1086,6138.25H1294"/>
<text class="m" x="1190" y="6058.5">Arcane::ItemSharedInfo</text>
<text><tspan x="1096.5" y="6084.15">+ NULL_INDEX</tspan><tspan x="1096.5" dy="14.65">+ COMMON_BASE_MEMORY</tspan><tspan x="1096.5" dy="14.65">- m_item_kind</tspan><tspan x="1096.5" dy="14.65">- m_nb_parent</tspan></text>
<text><tspan x="1096.5" y="6153.75">+ ItemSharedInfo()</tspan><tspan x="1096.5" dy="14.65">+ itemKind()</tspan><tspan x="1096.5" dy="14.65">+ itemFamily()</tspan><tspan x="1096.5" dy="14.65">+ nbParent()</tspan><tspan x="1096.5" dy="14.65">+ typeInfoFromId()</tspan><tspan x="1096.5" dy="14.65">+ nbNode()</tspan><tspan x="1096.5" dy="14.65">+ nbEdge()</tspan><tspan x="1096.5" dy="14.65">+ nbFace()</tspan><tspan x="1096.5" dy="14.65">+ nbCell()</tspan><tspan x="1096.5" dy="14.65">+ nbHParent()</tspan><tspan x="1096.5" dy="14.65">et 51 de plus...</tspan><tspan x="1096.5" dy="14.65">+ nullInstance()</tspan><tspan x="1096.5" dy="14.65">- ItemSharedInfo()</tspan><tspan x="1096.5" dy="14.65">- _parentV2()</tspan><tspan x="1096.5" dy="14.65">- _parentLocalIdV2()</tspan><tspan x="1096.5" dy="14.65">- _setParentV2()</tspan><tspan x="1096.5" dy="14.65">- _parentPtr()</tspan><tspan x="1096.5" dy="14.65">- _ownerV2()</tspan><tspan x="1096.5" dy="14.65">- _setOwnerV2()</tspan><tspan x="1096.5" dy="14.65">- _flagsV2()</tspan><tspan x="1096.5" dy="14.65">- _setFlagsV2()</tspan><tspan x="1096.5" dy="14.65">- _typeId()</tspan><tspan x="1096.5" dy="14.65">- _setTypeId()</tspan><tspan x="1096.5" dy="14.65">- _init()</tspan><tspan x="1096.5" dy="14.65">- _parent()</tspan></text></g>

<g id="iMesh" class="n"><rect x="1725" y="6005" width="256" height="545.75"/><path d="M1725,6030.65H1981M1725,6056.3H1981"/>
<text class="m" x="1853" y="6020.5">Arcane::IMesh</text>
<text><tspan x="1735.5" y="6071.8">+ ~IMesh()</tspan><tspan x="1735.5" dy="14.65">+ build()</tspan><tspan x="1735.5" dy="14.65">+ factoryName()</tspan><tspan x="1735.5" dy="14.65">+ itemsInternal()</tspan><tspan x="1735.5" dy="14.65">+ sharedNodesCoordinates()</tspan><tspan x="1735.5" dy="14.65">+ checkValidMesh()</tspan><tspan x="1735.5" dy="14.65">+ checkValidMeshFull()</tspan><tspan x="1735.5" dy="14.65">+ synchronizeGroupsAndVariables()</tspan><tspan x="1735.5" dy="14.65">+ isAllocated()</tspan><tspan x="1735.5" dy="14.65">+ timestamp()</tspan><tspan x="1735.5" dy="14.65">et 23 de plus...</tspan><tspan x="1735.5" dy="14.65">+ computeTiedInterfaces()</tspan><tspan x="1735.5" dy="14.65">+ hasTiedInterface()</tspan><tspan x="1735.5" dy="14.65">+ tiedInterfaces()</tspan><tspan x="1735.5" dy="14.65">+ partitionConstraintMng()</tspan><tspan x="1735.5" dy="14.65">+ utilities()</tspan><tspan x="1735.5" dy="14.65">+ properties()</tspan><tspan x="1735.5" dy="14.65">+ modifier()</tspan><tspan x="1735.5" dy="14.65">+ nodesCoordinates()</tspan><tspan x="1735.5" dy="14.65">+ defineParentForBuild()</tspan><tspan x="1735.5" dy="14.65">+ parentMesh()</tspan><tspan x="1735.5" dy="14.65">et 23 de plus...</tspan><tspan x="1735.5" dy="14.65">* computeTiedInterfaces()</tspan><tspan x="1735.5" dy="14.65">* hasTiedInterface()</tspan><tspan x="1735.5" dy="14.65">* tiedInterfaces()</tspan><tspan x="1735.5" dy="14.65">* partitionConstraintMng()</tspan><tspan x="1735.5" dy="14.65">* utilities()</tspan><tspan x="1735.5" dy="14.65">* properties()</tspan><tspan x="1735.5" dy="14.65">* modifier()</tspan><tspan x="1735.5" dy="14.65">* nodesCoordinates()</tspan><tspan x="1735.5" dy="14.65">* defineParentForBuild()</tspan><tspan x="1735.5" dy="14.65">* parentMesh()</tspan><tspan x="1735.5" dy="14.65">et 23 de plus...</tspan></text></g>

<g id="constArrayViewItemInternal" class="n"><rect x="1517" y="6137" width="182" height="282.05"/><path d="M1517,6177.3H1699M1517,6217.6H1699"/><text x="1527.5" y="6152.5">Arccore::ConstArrayView</text><text class="m" x="1608" y="6167.15">&lt; ItemInternal * &gt;</text><use xlink:href="#szp" x="1527.5" y="6192.8"/><use xlink:href="#cavM" x="1527.5" y="6233.1"/></g>
<g id="constArrayViewInt32" class="n"><rect x="2006" y="6137" width="182" height="282.05"/><path d="M2006,6177.3H2188M2006,6217.6H2188"/><text x="2016.5" y="6152.5">Arccore::ConstArrayView</text><text class="m" x="2097" y="6167.15">&lt; Int32 &gt;</text><use xlink:href="#szp" x="2016.5" y="6192.8"/><use xlink:href="#cavM" x="2016.5" y="6233.1"/></g>

<g id="int32View" class="n"><rect x="2213" y="6181" width="237" height="194.15"/><path d="M2213,6221.3H2450M2213,6261.6H2450"/>
<text x="2223.5" y="6196.5">Arcane::ItemInternalConnectivity</text><text class="m" x="2331.5" y="6211.15">List::Int32View</text>
<text><tspan x="2223.5" y="6236.8">- m_size</tspan><tspan x="2223.5" dy="14.65">- m_data</tspan></text>
<text><tspan x="2223.5" y="6277.1">+ operator[]()</tspan><tspan x="2223.5" dy="14.65">+ operator=()</tspan><tspan x="2223.5" dy="14.65">+ setNull()</tspan><tspan x="2223.5" dy="14.65">+ operator ConstArrayView</tspan><tspan x="2223.5" dy="14.65">&lt; Int32 &gt;()</tspan><tspan x="2223.5" dy="14.65">+ operator SmallSpan</tspan><tspan x="2223.5" dy="14.65">&lt; const Int32 &gt;()</tspan></text></g>

<g id="componentItemSharedInfoStorageView" class="n"><rect x="169" y="6196" width="279" height="164.85"/><path d="M169,6236.3H448M169,6335.2H448"/>
<text x="179.5" y="6211.5">Arcane::Materials::</text><text class="m" x="308.5" y="6226.15">ComponentItemSharedInfoStorageView</text>
<text><tspan x="179.5" y="6251.8">- m_storage_size</tspan><tspan x="179.5" dy="14.65">- m_component_id_data</tspan><tspan x="179.5" dy="14.65">- m_nb_sub_constituent</tspan><tspan x="179.5" dy="14.65">_item_data</tspan><tspan x="179.5" dy="14.65">- m_global_item_local</tspan><tspan x="179.5" dy="14.65">_id_data</tspan></text></g>

<g id="constArrayViewIMeshComponent" class="n"><rect x="476" y="6138" width="297" height="282.05"/><path d="M476,6178.3H773M476,6218.6H773"/><text x="486.5" y="6153.5">Arccore::ConstArrayView</text><text class="m" x="624.5" y="6168.15">&lt; Arcane::Materials::IMeshComponent * &gt;</text><use xlink:href="#szp" x="486.5" y="6193.8"/><use xlink:href="#cavM" x="486.5" y="6234.1"/></g>

<g id="componentItemSharedInfo" class="n"><rect x="504" y="6674" width="241" height="267.4"/><path d="M504,6714.3H745M504,6754.6H745"/>
<text x="514.5" y="6689.5">Arcane::Materials::</text><text class="m" x="624.5" y="6704.15">ComponentItemSharedInfo</text>
<text><tspan x="514.5" y="6729.8">- m_level</tspan><tspan x="514.5" dy="14.65">- MAT_INDEX_OFFSET</tspan></text>
<text><tspan x="514.5" y="6770.1">- _item()</tspan><tspan x="514.5" dy="14.65">- _firstSubConstituentLocalId()</tspan><tspan x="514.5" dy="14.65">- _setFirstSubConstituentLocalId()</tspan><tspan x="514.5" dy="14.65">- _nbSubConstituent()</tspan><tspan x="514.5" dy="14.65">- _setNbSubConstituent()</tspan><tspan x="514.5" dy="14.65">- _componentId()</tspan><tspan x="514.5" dy="14.65">- _setComponentId()</tspan><tspan x="514.5" dy="14.65">- _component()</tspan><tspan x="514.5" dy="14.65">- _globalItemBase()</tspan><tspan x="514.5" dy="14.65">- _setGlobalItem()</tspan><tspan x="514.5" dy="14.65">et 7 de plus...</tspan><tspan x="514.5" dy="14.65">- _nullInstance()</tspan></text></g>

<g id="constArrayViewConstituentItemIndex" class="n"><rect x="964" y="6659" width="233" height="296.7"/><path d="M964,6713.95H1197M964,6754.25H1197"/><text x="974.5" y="6674.5">Arccore::ConstArrayView</text><text x="974.5" y="6689.15">&lt; Arcane::Materials::Constituent</text><text class="m" x="1080.5" y="6703.8">ItemIndex &gt;</text><use xlink:href="#szp" x="974.5" y="6729.45"/><use xlink:href="#cavM" x="974.5" y="6769.75"/></g>

<g id="meshItemInternalList" class="n"><rect x="1498" y="6739" width="222" height="135.55"/><path d="M1498,6764.65H1720M1498,6790.3H1720"/>
<text class="m" x="1609" y="6754.5">Arcane::MeshItemInternalList</text>
<text><tspan x="1508.5" y="6805.8">- _internalSetNodeSharedInfo()</tspan><tspan x="1508.5" dy="14.65">- _internalSetEdgeSharedInfo()</tspan><tspan x="1508.5" dy="14.65">- _internalSetFaceSharedInfo()</tspan><tspan x="1508.5" dy="14.65">- _internalSetCellSharedInfo()</tspan><tspan x="1508.5" dy="14.65">- _notifyUpdate()</tspan></text></g>

<g id="connectivityContainer" class="n"><rect x="1861" y="6732" width="237" height="150.2"/><path d="M1861,6772.3H2098M1861,6797.95H2098"/>
<text x="1871.5" y="6747.5">Arcane::ItemInternalConnectivity</text><text class="m" x="1979.5" y="6762.15">List::Container</text>
<text><tspan x="1871.5" y="6813.45">+ itemLocalIdListView()</tspan><tspan x="1871.5" dy="14.65">+ itemLocalIdsData()</tspan><tspan x="1871.5" dy="14.65">+ itemLocalId()</tspan><tspan x="1871.5" dy="14.65">+ containerView()</tspan><tspan x="1871.5" dy="14.65">+ itemOffset()</tspan></text></g>

<g id="connectivityKindInfo" class="n g"><rect x="2122" y="6755" width="237" height="106.25"/><path d="M2122,6795.3H2359M2122,6835.6H2359"/>
<text x="2132.5" y="6770.5">Arcane::ItemInternalConnectivity</text><text class="m" x="2240.5" y="6785.15">List::KindInfo</text>
<text><tspan x="2132.5" y="6810.8">+ m_max_nb_item</tspan><tspan x="2132.5" dy="14.65">+ m_nb_item_null_data</tspan></text></g>

<g id="constituentItemLocalIdListView" class="n f"><rect x="799" y="7115" width="228" height="208.8"/><path d="M799,7155.3H1027M799,7180.95H1027"/>
<text x="809.5" y="7130.5">Arcane::Materials::</text><text class="m" x="913" y="7145.15">ConstituentItemLocalIdListView</text>
<text><tspan x="809.5" y="7196.45">- ConstituentItemLocalIdList</tspan><tspan x="809.5" dy="14.65">View()</tspan><tspan x="809.5" dy="14.65">- ConstituentItemLocalIdList</tspan><tspan x="809.5" dy="14.65">View()</tspan><tspan x="809.5" dy="14.65">- _constituenItemBase()</tspan><tspan x="809.5" dy="14.65">- _matVarIndex()</tspan><tspan x="809.5" dy="14.65">- _subView()</tspan><tspan x="809.5" dy="14.65">- _isSamePointerData()</tspan><tspan x="809.5" dy="14.65">- _checkCoherency()</tspan></text></g>

<g id="itemInternalConnectivityList" class="n"><rect x="1629" y="7020" width="260" height="399.25"/><path d="M1629,7045.65H1889M1629,7071.3H1889"/>
<text class="m" x="1759" y="7035.5">Arcane::ItemInternalConnectivityList</text>
<text><tspan x="1639.5" y="7086.8">+ ItemInternalConnectivity</tspan><tspan x="1639.5" dy="14.65">List()</tspan><tspan x="1639.5" dy="14.65">+ updateMeshItemInternalList()</tspan><tspan x="1639.5" dy="14.65">+ connectivityIndex()</tspan><tspan x="1639.5" dy="14.65">+ connectivityList()</tspan><tspan x="1639.5" dy="14.65">+ connectivityNbItem()</tspan><tspan x="1639.5" dy="14.65">+ maxNbConnectedItem()</tspan><tspan x="1639.5" dy="14.65">+ containerView()</tspan><tspan x="1639.5" dy="14.65">+ nodeBase()</tspan><tspan x="1639.5" dy="14.65">+ edgeBase()</tspan><tspan x="1639.5" dy="14.65">+ faceBase()</tspan><tspan x="1639.5" dy="14.65">et 7 de plus...</tspan><tspan x="1639.5" dy="14.65">- itemLocalIds()</tspan><tspan x="1639.5" dy="14.65">- itemLocalId()</tspan><tspan x="1639.5" dy="14.65">- nbAccess()</tspan><tspan x="1639.5" dy="14.65">- nbAccessAll()</tspan><tspan x="1639.5" dy="14.65">- _setConnectivityIndex()</tspan><tspan x="1639.5" dy="14.65">- _setConnectivityList()</tspan><tspan x="1639.5" dy="14.65">- _setConnectivityNbItem()</tspan><tspan x="1639.5" dy="14.65">- _setMaxNbConnectedItem()</tspan><tspan x="1639.5" dy="14.65">- nodeV2()</tspan><tspan x="1639.5" dy="14.65">- edgeV2()</tspan><tspan x="1639.5" dy="14.65">et 46 de plus...</tspan></text></g>
</svg>
